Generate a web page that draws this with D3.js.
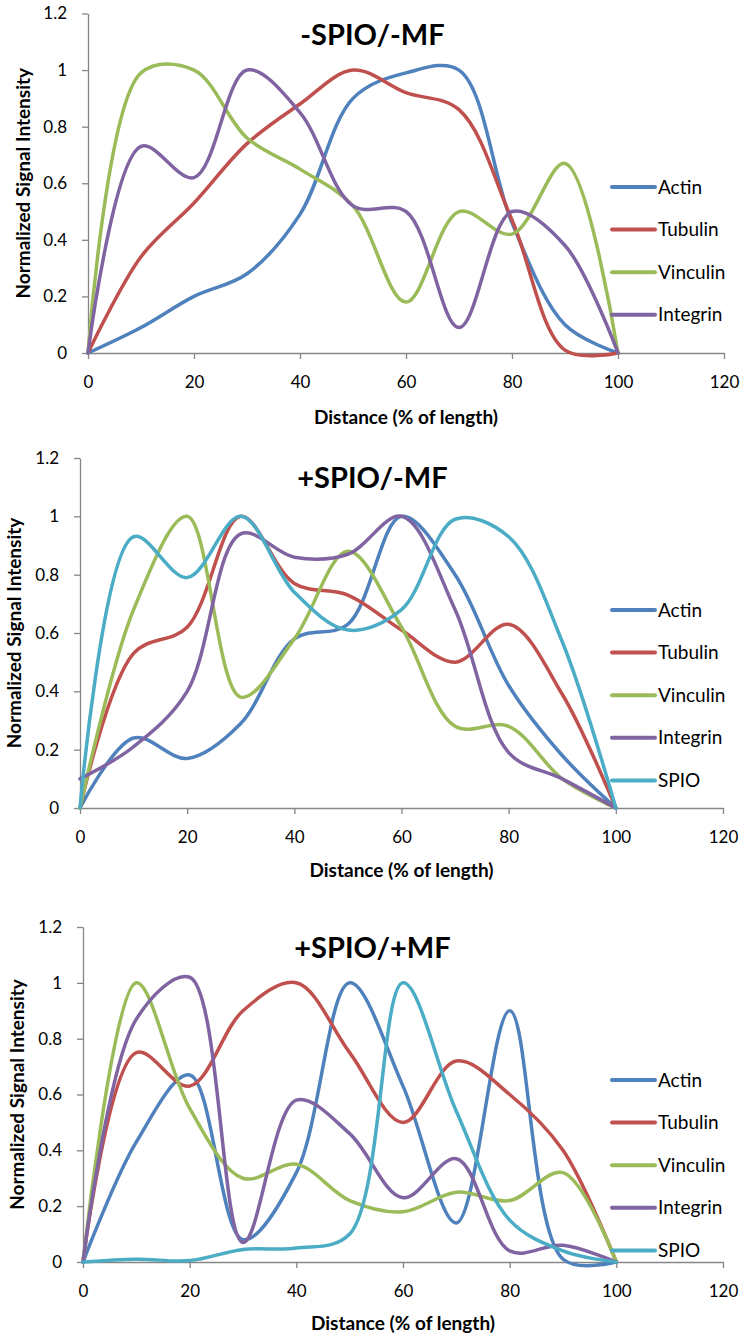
<!DOCTYPE html>
<html>
<head>
<meta charset="utf-8">
<script src="https://cdn.jsdelivr.net/npm/d3@7"></script>
<style>
	body { margin: 0; background: #fff; }
	text { font-family: Lato, "Open Sans", sans-serif; fill: #000; }
</style>
</head>
<body>
<div id="chart"></div>
<script>
const W = 745;
const H = 1336;

const distance = [0, 10, 20, 30, 40, 50, 60, 70, 80, 90, 100];
const seriesNames = ["Actin", "Tubulin", "Vinculin", "Integrin", "SPIO"];
const seriesColors = ["#4F81BD", "#C0504D", "#9BBB59", "#8064A2", "#4BACC6"];
const xTicks = [0, 20, 40, 60, 80, 100, 120];
const yTicks = [0, 0.2, 0.4, 0.6, 0.8, 1, 1.2];
const panelTitles = ["-SPIO/-MF", "+SPIO/-MF", "+SPIO/+MF"];

// -SPIO/-MF
const p1Actin    = [0, 0.09, 0.2, 0.28, 0.49, 0.9, 0.99, 1.0, 0.46, 0.1, 0];
const p1Tubulin  = [0, 0.34, 0.53, 0.74, 0.88, 1.0, 0.92, 0.86, 0.47, 0.01, 0];
const p1Vinculin = [0, 0.99, 1.0, 0.76, 0.65, 0.52, 0.18, 0.5, 0.42, 0.67, 0];
const p1Integrin = [0, 0.73, 0.62, 1.0, 0.85, 0.52, 0.5, 0.09, 0.5, 0.38, 0];

// +SPIO/-MF
const p2Actin    = [0, 0.24, 0.17, 0.29, 0.58, 0.63, 1.0, 0.8, 0.42, 0.18, 0];
const p2Tubulin  = [0, 0.53, 0.62, 1.0, 0.77, 0.73, 0.61, 0.5, 0.63, 0.39, 0];
const p2Vinculin = [0, 0.68, 1.0, 0.38, 0.58, 0.88, 0.62, 0.28, 0.28, 0.1, 0];
const p2Integrin = [0.1, 0.21, 0.4, 0.94, 0.86, 0.87, 1.0, 0.68, 0.19, 0.1, 0];
const p2Spio     = [0, 0.93, 0.79, 1.0, 0.74, 0.61, 0.68, 0.99, 0.93, 0.57, 0];

// +SPIO/+MF
const p3Actin    = [0, 0.43, 0.67, 0.08, 0.32, 1.0, 0.63, 0.14, 0.9, 0.01, 0];
const p3Tubulin  = [0, 0.75, 0.63, 0.9, 1.0, 0.75, 0.5, 0.72, 0.6, 0.4, 0];
const p3Vinculin = [0, 1.0, 0.55, 0.3, 0.35, 0.22, 0.18, 0.25, 0.22, 0.32, 0];
const p3Integrin = [0, 0.87, 1.02, 0.07, 0.58, 0.46, 0.23, 0.37, 0.04, 0.06, 0];
const p3Spio     = [0, 0.01, 0.005, 0.045, 0.05, 0.1, 1.0, 0.54, 0.15, 0.04, 0];

const panelSeries = [
	[p1Actin, p1Tubulin, p1Vinculin, p1Integrin],
	[p2Actin, p2Tubulin, p2Vinculin, p2Integrin, p2Spio],
	[p3Actin, p3Tubulin, p3Vinculin, p3Integrin, p3Spio]
];

// pixel layout of each panel (plot box, title, legend)
const layout = [
	{ left: 88, right: 724, top: 13.5, bottom: 353, titleY: 45, legendY: 187, yTitleX: 30, xTitleY: 424 },
	{ left: 80, right: 723, top: 458, bottom: 808, titleY: 488, legendY: 610, yTitleX: 21, xTitleY: 877 },
	{ left: 83, right: 723, top: 927, bottom: 1262, titleY: 958, legendY: 1080, yTitleX: 24, xTitleY: 1330 }
];

const svg = d3.select("#chart").append("svg")
	.attr("width", W)
	.attr("height", H);

panelSeries.forEach((series, pi) => {
	const L = layout[pi];
	const g = svg.append("g");

	const x = d3.scaleLinear().domain([0, 120]).range([L.left, L.right]);
	const y = d3.scaleLinear().domain([0, 1.2]).range([L.bottom, L.top]);

	g.append("g")
		.attr("transform", `translate(0,${L.bottom})`)
		.call(d3.axisBottom(x).tickValues(xTicks).tickSize(6).tickPadding(17).tickSizeOuter(0))
		.call(a => a.selectAll("line,path").attr("stroke", "#868686").attr("stroke-width", 1.3))
		.call(a => a.selectAll("text").attr("font-size", 17).attr("font-family", "Lato"));

	g.append("g")
		.attr("transform", `translate(${L.left},0)`)
		.call(d3.axisLeft(y).tickValues(yTicks).tickFormat(d => String(d)).tickSize(6).tickPadding(15).tickSizeOuter(0))
		.call(a => a.selectAll("line,path").attr("stroke", "#868686").attr("stroke-width", 1.3))
		.call(a => a.selectAll("text").attr("font-size", 17).attr("font-family", "Lato"));

	const line = d3.line()
		.x((d, i) => x(distance[i]))
		.y(d => y(d))
		.curve(d3.curveCatmullRom.alpha(0.5));

	series.forEach((vals, si) => {
		g.append("path")
			.datum(vals)
			.attr("d", line)
			.attr("fill", "none")
			.attr("stroke", seriesColors[si])
			.attr("stroke-width", 3.5)
			.attr("stroke-linejoin", "round")
			.attr("stroke-linecap", "round");
	});

	// legend
	series.forEach((vals, si) => {
		const ly = L.legendY + si * 42.6;
		g.append("line")
			.attr("x1", 612).attr("x2", 655)
			.attr("y1", ly).attr("y2", ly)
			.attr("stroke", seriesColors[si])
			.attr("stroke-width", 4)
			.attr("stroke-linecap", "round");
		g.append("text")
			.attr("x", 658).attr("y", ly)
			.attr("dy", "0.35em")
			.attr("font-size", 19)
			.text(seriesNames[si]);
	});

	g.append("text")
		.attr("x", 372.5).attr("y", L.titleY)
		.attr("text-anchor", "middle")
		.attr("font-size", 29)
		.attr("font-weight", "bold")
		.text(panelTitles[pi]);

	g.append("text")
		.attr("transform", `translate(${L.yTitleX},${(L.top + L.bottom) / 2}) rotate(-90)`)
		.attr("text-anchor", "middle")
		.attr("font-size", 19)
		.attr("font-weight", "bold")
		.text("Normalized Signal Intensity");

	g.append("text")
		.attr("x", (L.left + L.right) / 2).attr("y", L.xTitleY)
		.attr("text-anchor", "middle")
		.attr("font-size", 19)
		.attr("font-weight", "bold")
		.text("Distance (% of length)");
});
</script>
</body>
</html>
